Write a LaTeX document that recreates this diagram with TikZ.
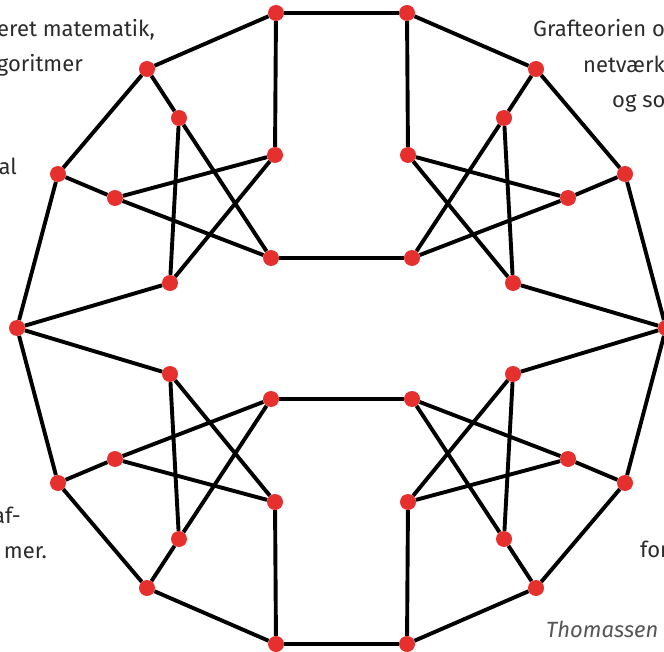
\documentclass[tikz,border=0pt]{standalone}
\usepackage{fontspec}
\setmainfont{Fira Sans}
\definecolor{vred}{RGB}{230,48,46}
\definecolor{txtgray}{RGB}{43,43,43}
\definecolor{capgray}{RGB}{85,85,85}

\begin{document}
\begin{tikzpicture}[x=1pt, y=-1pt,
  vert/.style={circle, fill=vred, inner sep=0pt, minimum size=16pt},
  edge/.style={line width=3.9pt, black},
  txt/.style={text=txtgray, inner sep=0pt, font=\fontsize{22}{26}\selectfont}]
\useasboundingbox (0,0) rectangle (664,652);
\clip (0,0) rectangle (664,652);
% text fragments behind the graph
\node[txt, anchor=base east] (l1) at (155,37) {eret matematik,};
\node[txt, anchor=base east] (l2) at (83,72) {goritmer};
\node[txt, anchor=base east] (l3) at (17,175) {al};
\node[txt, anchor=base east] (l4) at (21,523) {af-};
\node[txt, anchor=base east] (l5) at (47,558) {mer.};
\node[txt, anchor=base west] (r1) at (533,37) {Grafteorien o};
\node[txt, anchor=base west] (r2) at (583,73) {netværk};
\node[txt, anchor=base west] (r3) at (612,108) {og so};
\node[txt, anchor=base west] (r4) at (640,557) {for};
\node[txt, anchor=base west, text=capgray, font=\fontsize{22}{26}\selectfont\itshape] (cap) at (546,637) {Thomassen};
% outer ring
\node[vert] (o1) at (276,13) {};
\node[vert] (o2) at (407,13) {};
\node[vert] (o3) at (536,69) {};
\node[vert] (o4) at (625,174) {};
\node[vert] (o5) at (666,328) {};
\node[vert] (o6) at (625,483) {};
\node[vert] (o7) at (536,588) {};
\node[vert] (o8) at (407,644) {};
\node[vert] (o9) at (276,644) {};
\node[vert] (o10) at (147,588) {};
\node[vert] (o11) at (58,483) {};
\node[vert] (o12) at (17,328) {};
\node[vert] (o13) at (58,174) {};
\node[vert] (o14) at (147,69) {};
% upper left star
\node[vert] (ul1) at (179,118) {};
\node[vert] (ul2) at (115,198) {};
\node[vert] (ul3) at (275,155) {};
\node[vert] (ul4) at (271,258) {};
\node[vert] (ul5) at (170,283) {};
% upper right star
\node[vert] (ur1) at (504,118) {};
\node[vert] (ur2) at (568,198) {};
\node[vert] (ur3) at (408,155) {};
\node[vert] (ur4) at (412,258) {};
\node[vert] (ur5) at (513,283) {};
% lower left star
\node[vert] (ll1) at (179,539) {};
\node[vert] (ll2) at (115,459) {};
\node[vert] (ll3) at (275,502) {};
\node[vert] (ll4) at (271,399) {};
\node[vert] (ll5) at (170,374) {};
% lower right star
\node[vert] (lr1) at (504,539) {};
\node[vert] (lr2) at (568,459) {};
\node[vert] (lr3) at (408,502) {};
\node[vert] (lr4) at (412,399) {};
\node[vert] (lr5) at (513,374) {};
% edges
\foreach \a/\b in {o1/o2,o2/o3,o3/o4,o4/o5,o5/o6,o6/o7,o7/o8,o8/o9,o9/o10,o10/o11,o11/o12,o12/o13,o13/o14,o14/o1}
  \draw[edge] (\a) -- (\b);
\foreach \c in {ul,ur,ll,lr}
  \draw[edge] (\c1) -- (\c4) (\c1) -- (\c5) (\c2) -- (\c3) (\c2) -- (\c4) (\c3) -- (\c5);
\foreach \a/\b in {o14/ul1,o13/ul2,o1/ul3,o12/ul5,o3/ur1,o4/ur2,o2/ur3,o5/ur5,o10/ll1,o11/ll2,o9/ll3,o12/ll5,o7/lr1,o6/lr2,o8/lr3,o5/lr5,ul4/ur4,ll4/lr4}
  \draw[edge] (\a) -- (\b);
\end{tikzpicture}
\end{document}
